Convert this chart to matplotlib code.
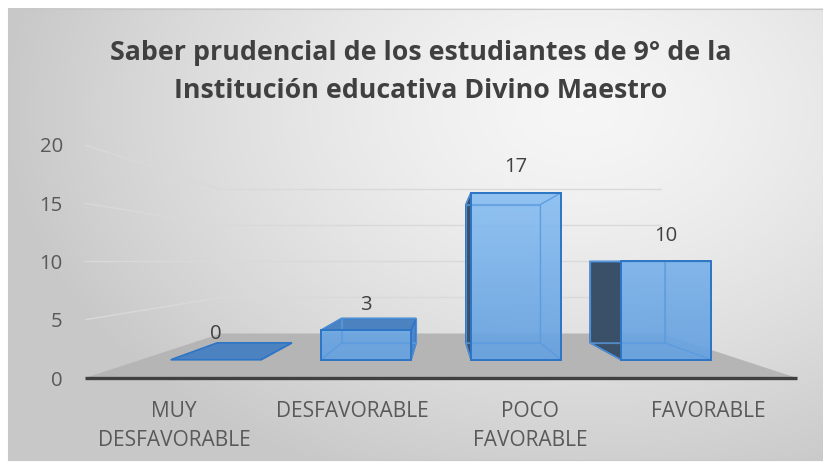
import matplotlib.pyplot as plt
import numpy as np
from matplotlib.patches import Polygon, Rectangle

categories = ["MUY\nDESFAVORABLE", "DESFAVORABLE", "POCO\nFAVORABLE", "FAVORABLE"]
values = [0, 3, 17, 10]
y_ticks = [0, 5, 10, 15, 20]
title_lines = [
    "Saber prudencial de los estudiantes de 9° de la",
    "Institución educativa Divino Maestro",
]

W, H, DPI = 823, 465, 100
FONT = "Open Sans"

# simple one-point perspective, eye at category centre / value 10
eye_x, eye_v = 1.5, 10.0
depth_k = 0.618
bar_width = 0.6
bar_d0, bar_d1 = 0.3, 0.7


def proj(x, v, d):
    """Project a point (category x, value v, depth d in 0..1) onto the front plane."""
    s = 1.0 / (1.0 + depth_k * d)
    return eye_x + (x - eye_x) * s, eye_v + (v - eye_v) * s


def box_faces(i, v):
    x0, x1 = i - bar_width / 2, i + bar_width / 2
    d0, d1 = bar_d0, bar_d1
    return {
        "front": [proj(x0, 0, d0), proj(x1, 0, d0), proj(x1, v, d0), proj(x0, v, d0)],
        "back": [proj(x0, 0, d1), proj(x1, 0, d1), proj(x1, v, d1), proj(x0, v, d1)],
        "left": [proj(x0, 0, d0), proj(x0, 0, d1), proj(x0, v, d1), proj(x0, v, d0)],
        "right": [proj(x1, 0, d0), proj(x1, 0, d1), proj(x1, v, d1), proj(x1, v, d0)],
        "top": [proj(x0, v, d0), proj(x1, v, d0), proj(x1, v, d1), proj(x0, v, d1)],
        "bottom": [proj(x0, 0, d0), proj(x1, 0, d0), proj(x1, 0, d1), proj(x0, 0, d1)],
    }


fig = plt.figure(figsize=(W / DPI, H / DPI), dpi=DPI)
fig.patch.set_facecolor("white")

# chart area background with a soft radial gradient
bg = fig.add_axes([0, 0, 1, 1], zorder=-1)
bg.axis("off")
gx, gy = np.meshgrid(np.linspace(8, W, 300), np.linspace(9, 460, 200))
r = np.clip(np.hypot((gx - 580) / 580, (gy - 110) / 400), 0, 1)
light, dark = np.array([0.965, 0.965, 0.965]), np.array([0.785, 0.785, 0.785])
grad = light + (dark - light) * r[..., None] ** 1.4
bg.imshow(grad, extent=(8, W, 460, 9), aspect="auto", interpolation="bilinear")
bg.add_patch(Rectangle((8, 9), W - 8, 451, fill=False, edgecolor="#c8c8c8", lw=0.8))
bg.set_xlim(0, W)
bg.set_ylim(H, 0)

for k, line in enumerate(title_lines):
    fig.text(421 / W, 1 - (53 + 38 * k) / H, line, ha="center", va="center",
             fontsize=19.3, fontweight="bold", color="#404040", family=FONT)

ax = fig.add_axes([85 / W, (H - 378) / H, 712 / W, 233 / H])
ax.patch.set_visible(False)
for sp in ax.spines.values():
    sp.set_visible(False)
ax.set_xlim(-0.5, 3.5)
ax.set_ylim(0, 20)
ax.set_yticks(y_ticks)
ax.set_xticks(range(len(categories)), categories)
ax.tick_params(axis="y", length=0, pad=16, labelsize=14.6, labelcolor="#595959")
ax.tick_params(axis="x", length=0, pad=16.5, labelsize=15, labelcolor="#595959")
for lab in ax.get_xticklabels() + ax.get_yticklabels():
    lab.set_family(FONT)
for lab in ax.get_xticklabels():
    lab.set_linespacing(1.48)

# floor and walls
floor = [proj(-0.5, 0, 0), proj(3.5, 0, 0), proj(3.5, 0, 1), proj(-0.5, 0, 1)]
ax.add_patch(Polygon(floor, closed=True, facecolor="#b5b5b5", edgecolor="none", zorder=1))
for g in y_ticks[1:]:
    pts = [proj(-0.5, g, 0), proj(-0.5, g, 1), proj(3.5, g, 1)]
    ax.plot(*zip(*pts), color="#d9d9d9", lw=1, zorder=1, solid_joinstyle="miter")
ax.plot(*zip(proj(-0.5, 0, 0), proj(3.5, 0, 0)), color="#404040", lw=2.4,
        zorder=6, clip_on=False, solid_capstyle="butt")

# bars
edge = "#2e75c6"
vgrad = np.linspace(0, 1, 256)[:, None]
c_top, c_bot = np.array([0.58, 0.78, 0.97]), np.array([0.38, 0.62, 0.87])
front_img = c_bot + (c_top - c_bot) * vgrad[..., None]
front_img = front_img * np.ones((1, 2, 1))

for i, v in enumerate(values):
    faces = box_faces(i, v)
    x0, x1 = i - bar_width / 2, i + bar_width / 2
    visible = ["front"]
    if x0 > eye_x:
        visible.append("left")
    if x1 < eye_x:
        visible.append("right")
    if v < eye_v:
        visible.append("top")
    hidden = [k for k in faces if k not in visible]

    if "left" in visible:
        ax.add_patch(Polygon(faces["left"], facecolor="#3a5068", edgecolor=edge,
                             lw=1.2, zorder=3))
    if "right" in visible:
        ax.add_patch(Polygon(faces["right"], facecolor="#4a86c8", edgecolor=edge,
                             lw=1.2, zorder=3))
    if "top" in visible:
        ax.add_patch(Polygon(faces["top"], facecolor="#4c82c0", edgecolor=edge,
                             lw=1.2, zorder=3))
    if v > 0:
        fp = Polygon(faces["front"], facecolor="none", edgecolor="none", zorder=4)
        ax.add_patch(fp)
        im = ax.imshow(front_img, extent=(-0.5, 3.5, 0, 20), origin="lower",
                       aspect="auto", alpha=0.92, zorder=4)
        im.set_clip_path(fp)
        for k in hidden:
            ax.add_patch(Polygon(faces[k], fill=False, edgecolor="#5b9be0",
                                 lw=0.9, alpha=0.7, zorder=5))
        ax.add_patch(Polygon(faces["front"], fill=False, edgecolor=edge, lw=1.4, zorder=5))

    ax.annotate(str(v), xy=proj(i, v, bar_d0), xytext=(0, 18.5),
                textcoords="offset points", ha="center", va="center",
                fontsize=14.6, color="#404040", family=FONT, zorder=7)

ax.set_xlim(-0.5, 3.5)
ax.set_ylim(0, 20)

fig.savefig("out.png", dpi=DPI)
